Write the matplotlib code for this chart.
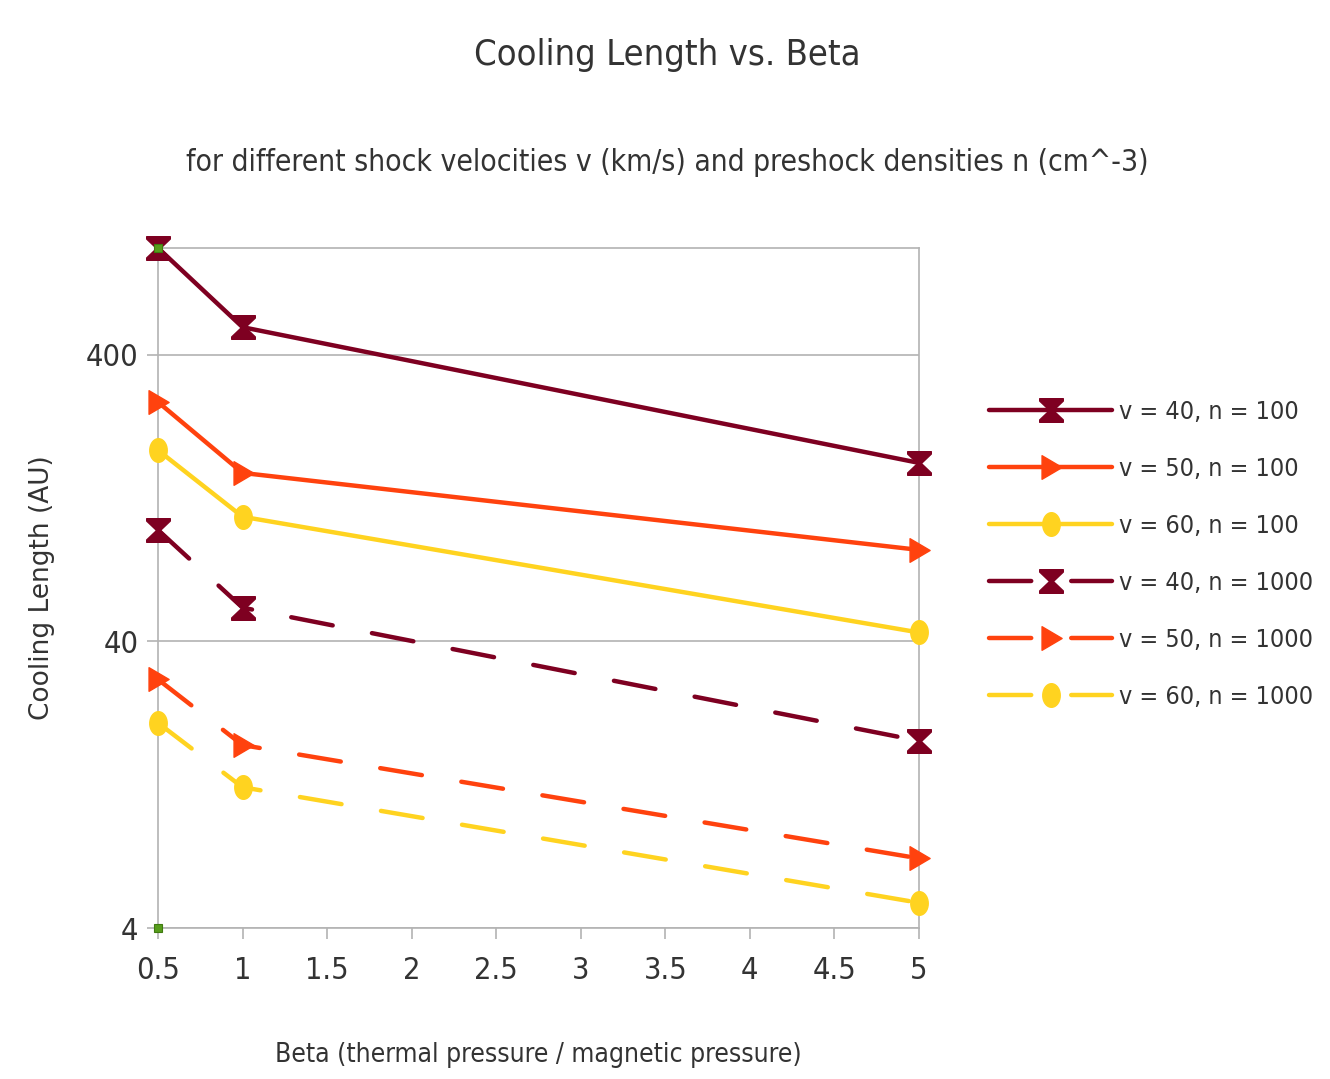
import numpy as np
import matplotlib
matplotlib.use("Agg")
import matplotlib.pyplot as plt
from matplotlib.path import Path

plt.rcParams['font.family'] = ['Liberation Sans Narrow', 'DejaVu Sans']
plt.rcParams['font.stretch'] = 'condensed'

beta = [0.5, 1, 5]
v40_n100 = [945, 500, 168]
v50_n100 = [274, 155, 83.5]
v60_n100 = [186, 109, 43]
v40_n1000 = [98, 52.5, 18]
v50_n1000 = [29.5, 17.4, 7.0]
v60_n1000 = [20.8, 12.4, 4.9]
hidden_x = [0.5, 0.5]
hidden_y = [945, 4]

labels = ["v = 40, n = 100", "v = 50, n = 100", "v = 60, n = 100",
          "v = 40, n = 1000", "v = 50, n = 1000", "v = 60, n = 1000"]
series = [v40_n100, v50_n100, v60_n100, v40_n1000, v50_n1000, v60_n1000]

maroon, orange, yellow, green = "#7e0021", "#ff420e", "#ffd320", "#579d1c"

hourglass = Path([(-0.5, 0.5), (0.5, 0.5), (0.5, 0.4), (0.08, 0), (0.5, -0.4), (0.5, -0.5),
                  (-0.5, -0.5), (-0.5, -0.4), (-0.08, 0), (-0.5, 0.4), (-0.5, 0.5)], closed=True)
t = np.linspace(0, 2 * np.pi, 40)
ellipse = Path(np.column_stack([0.37 * np.cos(t), 0.5 * np.sin(t)]), closed=True)
tri = Path([(-0.4, 0.5), (0.45, 0), (-0.4, -0.5), (-0.4, 0.5)], closed=True)

colors = [maroon, orange, yellow, maroon, orange, yellow]
markers = [hourglass, tri, ellipse, hourglass, tri, ellipse]

fig = plt.figure(figsize=(13.3, 10.79), dpi=100)
ax = fig.add_axes([0.1188, 0.1399, 0.691 - 0.1188, 0.7702 - 0.1399])

for i, (ys, lab) in enumerate(zip(series, labels)):
    kw = dict(color=colors[i], lw=3.2, marker=markers[i], markersize=17,
              markerfacecolor=colors[i], markeredgecolor=colors[i], label=lab,
              solid_capstyle='round', dash_capstyle='round')
    if i >= 3:
        kw['dashes'] = (9.5, 9)
    ax.plot(beta, ys, clip_on=False, zorder=3, **kw)

ax.plot(hidden_x, hidden_y, ls='none', marker='s', markersize=6, color=green,
        markeredgecolor="#3f7a10", markeredgewidth=0.8, clip_on=False, zorder=4)

ax.set_yscale('log')
ax.set_ylim(4, 945)
ax.set_xlim(0.5, 5)
ax.set_yticks([4, 40, 400])
ax.set_yticklabels(["4", "40", "400"])
ax.minorticks_off()
ax.set_xticks(np.arange(0.5, 5.01, 0.5))
ax.set_xticklabels(["0.5", "1", "1.5", "2", "2.5", "3", "3.5", "4", "4.5", "5"])
ax.grid(axis='y', color='#b3b3b3', lw=1.2)
ax.set_axisbelow(True)
for s in ax.spines.values():
    s.set_color('#b3b3b3')
    s.set_linewidth(1.2)
ax.tick_params(colors='#b3b3b3', labelcolor='#333333', labelsize=22, length=8, width=1.2)
ax.tick_params(axis='x', pad=12)
ax.tick_params(axis='y', pad=6)

ax.set_xlabel("Beta (thermal pressure / magnetic pressure)", fontsize=19, color='#333333')
ax.xaxis.set_label_coords(0.5, -0.168)
ax.set_ylabel("Cooling Length (AU)", fontsize=19, color='#333333',
              family='DejaVu Sans', stretch='normal')
ax.yaxis.set_label_coords(-0.135, 0.5)

fig.text(0.502, 0.949, "Cooling Length vs. Beta", ha='center', va='center', fontsize=26, color='#333333')
fig.text(0.502, 0.849, "for different shock velocities v (km/s) and preshock densities n (cm^-3)",
         ha='center', va='center', fontsize=21.5, color='#333333')

leg = fig.legend(loc='center left', bbox_to_anchor=(0.727, 0.486), frameon=False, fontsize=18,
                 handlelength=4.9, handletextpad=0.3, labelspacing=1.32, labelcolor='#333333')

fig.savefig("out.png", dpi=100)
